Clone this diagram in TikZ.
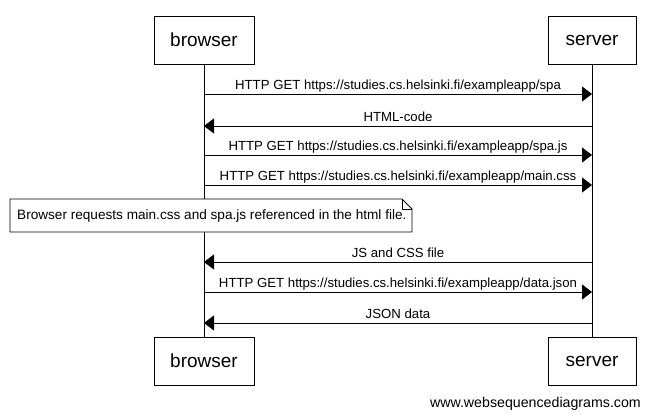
\documentclass[tikz,border=0pt]{standalone}
\usepackage{fontspec}
\setmainfont{Liberation Sans}
\usetikzlibrary{arrows.meta}
\begin{document}
\begin{tikzpicture}[x=1pt,y=-1pt,
  pbox/.style={draw, line width=0.8pt, fill=white, minimum height=48pt, inner sep=0pt, font=\fontsize{19}{22}\selectfont},
  msg/.style={line width=0.8pt, -{Triangle[length=10pt,width=15pt]}},
  lbl/.style={font=\fontsize{13.2}{15}\selectfont, inner sep=0pt, anchor=base, yshift=4pt},
  life/.style={line width=0.8pt}]
\useasboundingbox (0,0) rectangle (650,419);
\node[pbox, minimum width=100pt] (bt) at (204,40) {browser};
\node[pbox, minimum width=88pt] (st) at (592,40) {server};
\node[pbox, minimum width=100pt] (bb) at (204,361) {browser};
\node[pbox, minimum width=88pt] (sb) at (592,361) {server};
\draw[life] (bt) -- (bb);
\draw[life] (st) -- (sb);
\foreach \n/\y in {1/94,2/126,3/155,4/185,5/262,6/292,7/323}{
  \coordinate (b\n) at (204,\y);
  \coordinate (s\n) at (592,\y);
}
\draw[msg] (b1) -- node[lbl] {HTTP GET https://studies.cs.helsinki.fi/exampleapp/spa} (s1);
\draw[msg] (s2) -- node[lbl] {HTML-code} (b2);
\draw[msg] (b3) -- node[lbl] {HTTP GET https://studies.cs.helsinki.fi/exampleapp/spa.js} (s3);
\draw[msg] (b4) -- node[lbl] {HTTP GET https://studies.cs.helsinki.fi/exampleapp/main.css} (s4);
\draw[msg] (s5) -- node[lbl] {JS and CSS file} (b5);
\draw[msg] (b6) -- node[lbl] {HTTP GET https://studies.cs.helsinki.fi/exampleapp/data.json} (s6);
\draw[msg] (s7) -- node[lbl] {JSON data} (b7);
% note
\filldraw[fill=white, line width=0.8pt] (10,199) -- (402,199) -- (412,209) -- (412,232) -- (10,232) -- cycle;
\draw[line width=0.6pt] (402,199) -- (402,209) -- (412,209);
\node[font=\fontsize{13.6}{15}\selectfont, inner sep=0pt, anchor=west] (note) at (17,215.5) {Browser requests main.css and spa.js referenced in the html file.};
\node[font=\fontsize{14.2}{16}\selectfont, inner sep=0pt, anchor=east] (wm) at (641,404) {www.websequencediagrams.com};
\end{tikzpicture}
\end{document}
